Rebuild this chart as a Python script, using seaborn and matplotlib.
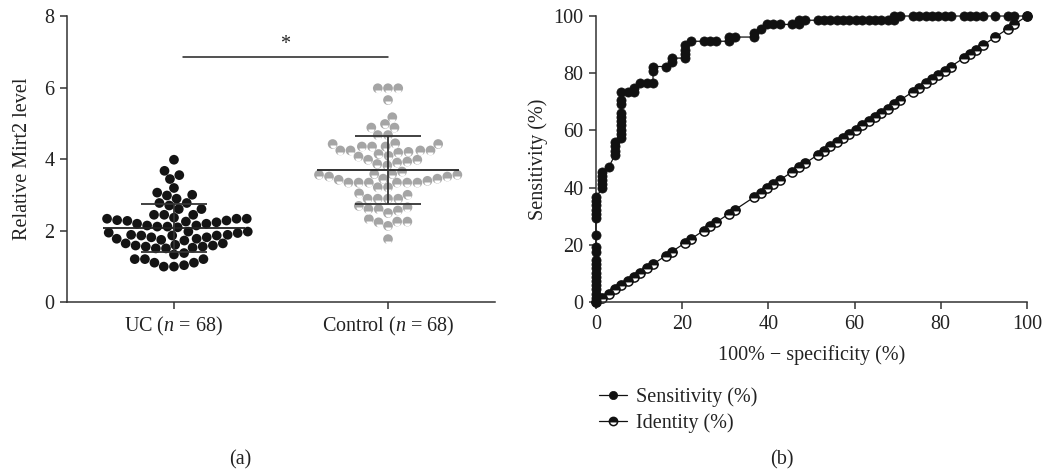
import numpy as np
import pandas as pd
import seaborn as sns
import matplotlib.pyplot as plt
from matplotlib.markers import MarkerStyle

# panel (a): relative Mirt2 level per subject
groups = ['UC', 'Control']
group_n = [68, 68]
uc_level = [3.98, 3.67, 3.55, 3.44, 3.19, 3.06, 3.00, 2.98, 2.89, 2.77, 2.77, 2.70,
            2.60, 2.60, 2.44, 2.44, 2.44,
            2.33, 2.33, 2.28, 2.27, 2.23, 2.19, 2.14, 2.11, 2.11, 2.14, 2.19, 2.25,
            2.29, 2.33, 2.36,
            1.97, 1.94, 1.88, 1.86, 1.86, 1.81, 1.77, 1.77, 1.81, 1.86, 1.88, 1.93,
            1.97, 2.09,
            1.72, 1.64, 1.58, 1.55, 1.52, 1.50, 1.37, 1.50, 1.55, 1.58, 1.60, 1.64, 1.74,
            1.33, 1.20, 1.10, 1.03, 0.99, 0.99, 1.10, 1.20, 1.20]
control_level = [5.98, 5.98, 5.98, 5.65, 5.17, 4.88, 4.98, 4.88, 4.67, 4.67,
                 4.42, 4.35, 4.35, 4.24, 4.24, 4.18, 4.20, 4.24, 4.24, 4.35, 4.42, 4.44,
                 4.09, 3.98, 3.93, 3.86, 3.82, 3.90, 3.98, 4.07, 4.14,
                 3.56, 3.58, 3.51, 3.45, 3.39, 3.34, 3.42, 3.45, 3.51, 3.56, 3.58, 3.65,
                 3.34, 3.34, 3.21, 3.04, 3.00, 3.21, 3.34, 3.34, 3.34,
                 2.89, 2.89, 2.69, 2.60, 2.56, 2.60, 2.65, 2.89, 2.89,
                 2.49, 2.25, 2.23, 2.13, 2.25, 2.32, 1.76]
group_mean = [2.08, 3.70]
group_sd = [0.67, 0.95]
sig_y = 6.85

# panel (b): ROC curve, 100% - specificity vs sensitivity
roc_fpr = [0, 0, 0, 0, 0, 0, 0, 0, 0, 0, 0, 0, 0, 0, 0, 0, 0, 0, 0, 0,
           1.47, 1.47, 1.47, 1.47, 1.47, 2.94,
           4.41, 4.41, 4.41, 4.41,
           5.88, 5.88, 5.88, 5.88, 5.88, 5.88, 5.88, 5.88, 5.88, 5.88,
           7.35, 8.82, 8.82, 10.29, 11.76, 13.24, 13.24, 13.24,
           16.18, 17.65, 17.65, 20.59, 20.59, 20.59, 20.59, 22.06,
           25.00, 26.47, 27.94, 30.88, 30.88, 32.35, 36.76, 36.76,
           38.24, 39.71, 41.18, 42.65, 45.59, 47.06, 47.06, 48.53,
           51.47, 52.94, 54.41, 55.88, 57.35, 58.82, 60.29, 61.76, 63.24, 64.71,
           66.18, 67.65, 69.12, 69.12, 70.59,
           73.53, 75.00, 76.47, 77.94, 79.41, 80.88, 82.35,
           85.29, 86.76, 88.24, 89.71, 92.65, 95.59, 97.06, 100.0]
roc_sens = [0, 1.47, 2.94, 4.41, 5.88, 7.35, 8.82, 10.29, 11.76, 13.24, 14.71,
            17.65, 19.12, 23.53, 29.41, 30.88, 32.35, 33.82, 35.29, 36.76,
            39.71, 41.18, 42.65, 44.12, 45.59, 47.06,
            51.47, 52.94, 54.41, 55.88,
            57.35, 58.82, 60.29, 61.76, 63.24, 64.71, 66.18, 69.12, 70.59, 73.53,
            73.53, 73.53, 75.00, 76.47, 76.47, 76.47, 80.88, 82.35,
            82.35, 83.82, 85.29, 85.29, 86.76, 88.24, 89.71, 91.18,
            91.18, 91.18, 91.18, 91.18, 92.65, 92.65, 92.65, 94.12,
            95.59, 97.06, 97.06, 97.06, 97.06, 97.06, 98.53, 98.53,
            98.53, 98.53, 98.53, 98.53, 98.53, 98.53, 98.53, 98.53, 98.53, 98.53,
            98.53, 98.53, 98.53, 100.0, 100.0,
            100.0, 100.0, 100.0, 100.0, 100.0, 100.0, 100.0,
            100.0, 100.0, 100.0, 100.0, 100.0, 100.0, 100.0, 100.0]
identity_pct = [0, 1.47, 2.94, 4.41, 5.88, 7.35, 8.82, 10.29, 11.76, 13.24,
                16.18, 17.65, 20.59, 22.06, 25.00, 26.47, 27.94, 30.88, 32.35,
                36.76, 38.24, 39.71, 41.18, 42.65, 45.59, 47.06, 48.53,
                51.47, 52.94, 54.41, 55.88, 57.35, 58.82, 60.29, 61.76, 63.24,
                64.71, 66.18, 67.65, 69.12, 70.59,
                73.53, 75.00, 76.47, 77.94, 79.41, 80.88, 82.35,
                85.29, 86.76, 88.24, 89.71, 92.65, 95.59, 97.06, 100.0]

sns.set_style('ticks')
plt.rcParams['font.family'] = ['Liberation Serif', 'DejaVu Serif']
plt.rcParams['mathtext.fontset'] = 'custom'
plt.rcParams['mathtext.rm'] = 'Liberation Serif'
plt.rcParams['mathtext.it'] = 'Liberation Serif:italic'
plt.rcParams['font.size'] = 14.5
plt.rcParams['text.color'] = '#222222'
plt.rcParams['axes.labelcolor'] = '#222222'
plt.rcParams['xtick.color'] = '#333333'
plt.rcParams['ytick.color'] = '#333333'
plt.rcParams['xtick.labelcolor'] = '#222222'
plt.rcParams['ytick.labelcolor'] = '#222222'

fig = plt.figure(figsize=(10.43, 4.70), dpi=100)
ax1 = fig.add_axes([0.0642, 0.3574, 0.4104, 0.6085])
ax2 = fig.add_axes([0.5714, 0.3574, 0.4132, 0.6085])

# ---- (a) swarm plot ----
dot = 7.0
df = pd.DataFrame({
    'group': [groups[0]] * len(uc_level) + [groups[1]] * len(control_level),
    'level': uc_level + control_level,
})
sns.swarmplot(data=df, x='group', y='level', hue='group', order=groups,
              palette={'UC': '#141414', 'Control': '#a5a5a5'},
              size=dot, linewidth=0, legend=False, ax=ax1)
ax1.set_xlim(-0.5, 1.5)
ax1.set_ylim(0, 8)
ax1.set_yticks([0, 2, 4, 6, 8])
ax1.set_xticks([0, 1])
ax1.set_xticklabels([f'{g} ($n$ = {n})' for g, n in zip(groups, group_n)])
ax1.set_xlabel('')
ax1.set_ylabel('Relative Mirt2 level')
ax1.yaxis.set_label_coords(-0.082, 0.5)

for i, (m, s) in enumerate(zip(group_mean, group_sd)):
    ax1.hlines(m, i - 0.33, i + 0.33, color='#222222', lw=1.3, zorder=4)
    ax1.vlines(i, m - s, m + s, color='#333333', lw=1.3, zorder=4)
    ax1.hlines([m - s, m + s], i - 0.155, i + 0.155, color='#333333', lw=1.3, zorder=4)

ax1.plot([0.04, 1.0], [sig_y, sig_y], color='#222222', lw=1.1)
ax1.text(0.52, sig_y + 0.1, '*', ha='center', va='bottom', fontsize=14.5)

# ---- (b) ROC ----
mk = 6.6
sns.lineplot(x=roc_fpr, y=roc_sens, estimator=None, sort=False, color='#111111',
             lw=0.9, marker='o', markersize=mk, markeredgecolor='#111111',
             markeredgewidth=0.5, label='Sensitivity (%)', ax=ax2, clip_on=False,
             zorder=3)
sns.lineplot(x=identity_pct, y=identity_pct, estimator=None, sort=False,
             color='#111111', lw=0.9, marker='o', markersize=mk,
             fillstyle='bottom', markerfacecolor='white',
             markerfacecoloralt='#111111', markeredgecolor='#111111',
             markeredgewidth=1.1, label='Identity (%)', ax=ax2, clip_on=False,
             zorder=2)
ax2.set_xlim(0, 100)
ax2.set_ylim(0, 100)
ax2.set_xticks([0, 20, 40, 60, 80, 100])
ax2.set_yticks([0, 20, 40, 60, 80, 100])
ax2.set_xlabel('100% \u2212 specificity (%)', labelpad=8)
ax2.set_ylabel('Sensitivity (%)')
ax2.yaxis.set_label_coords(-0.112, 0.5)
handles, labels = ax2.get_legend_handles_labels()
ax2.legend(handles, labels, loc='upper left', bbox_to_anchor=(0.574, 0.175),
           bbox_transform=fig.transFigure, frameon=False, handlelength=1.4,
           handletextpad=0.45, labelspacing=0.3, borderpad=0, borderaxespad=0,
           fontsize=14.5, markerscale=0.9)

for ax in (ax1, ax2):
    sns.despine(ax=ax)
    for sp in ('left', 'bottom'):
        ax.spines[sp].set_color('#333333')
        ax.spines[sp].set_linewidth(1.1)
    ax.tick_params(direction='out', length=5, width=1.1, labelsize=14.5, pad=4)

fig.text(240 / 1043, 10 / 470, '(a)', ha='center', va='center', fontsize=14.5)
fig.text(782 / 1043, 10 / 470, '(b)', ha='center', va='center', fontsize=14.5)

# control dots get a white lower half like the original symbols
fig.canvas.draw()
for coll in ax1.collections:
    off = np.asarray(coll.get_offsets())
    if len(off) and np.mean(off[:, 0]) > 0.5:
        ax1.scatter(off[:, 0], off[:, 1] - 0.04, marker=MarkerStyle('o', fillstyle='bottom'),
                    s=(dot * 0.62) ** 2, color='white', linewidths=0, zorder=3)
        break

fig.savefig('out.png', dpi=100)
